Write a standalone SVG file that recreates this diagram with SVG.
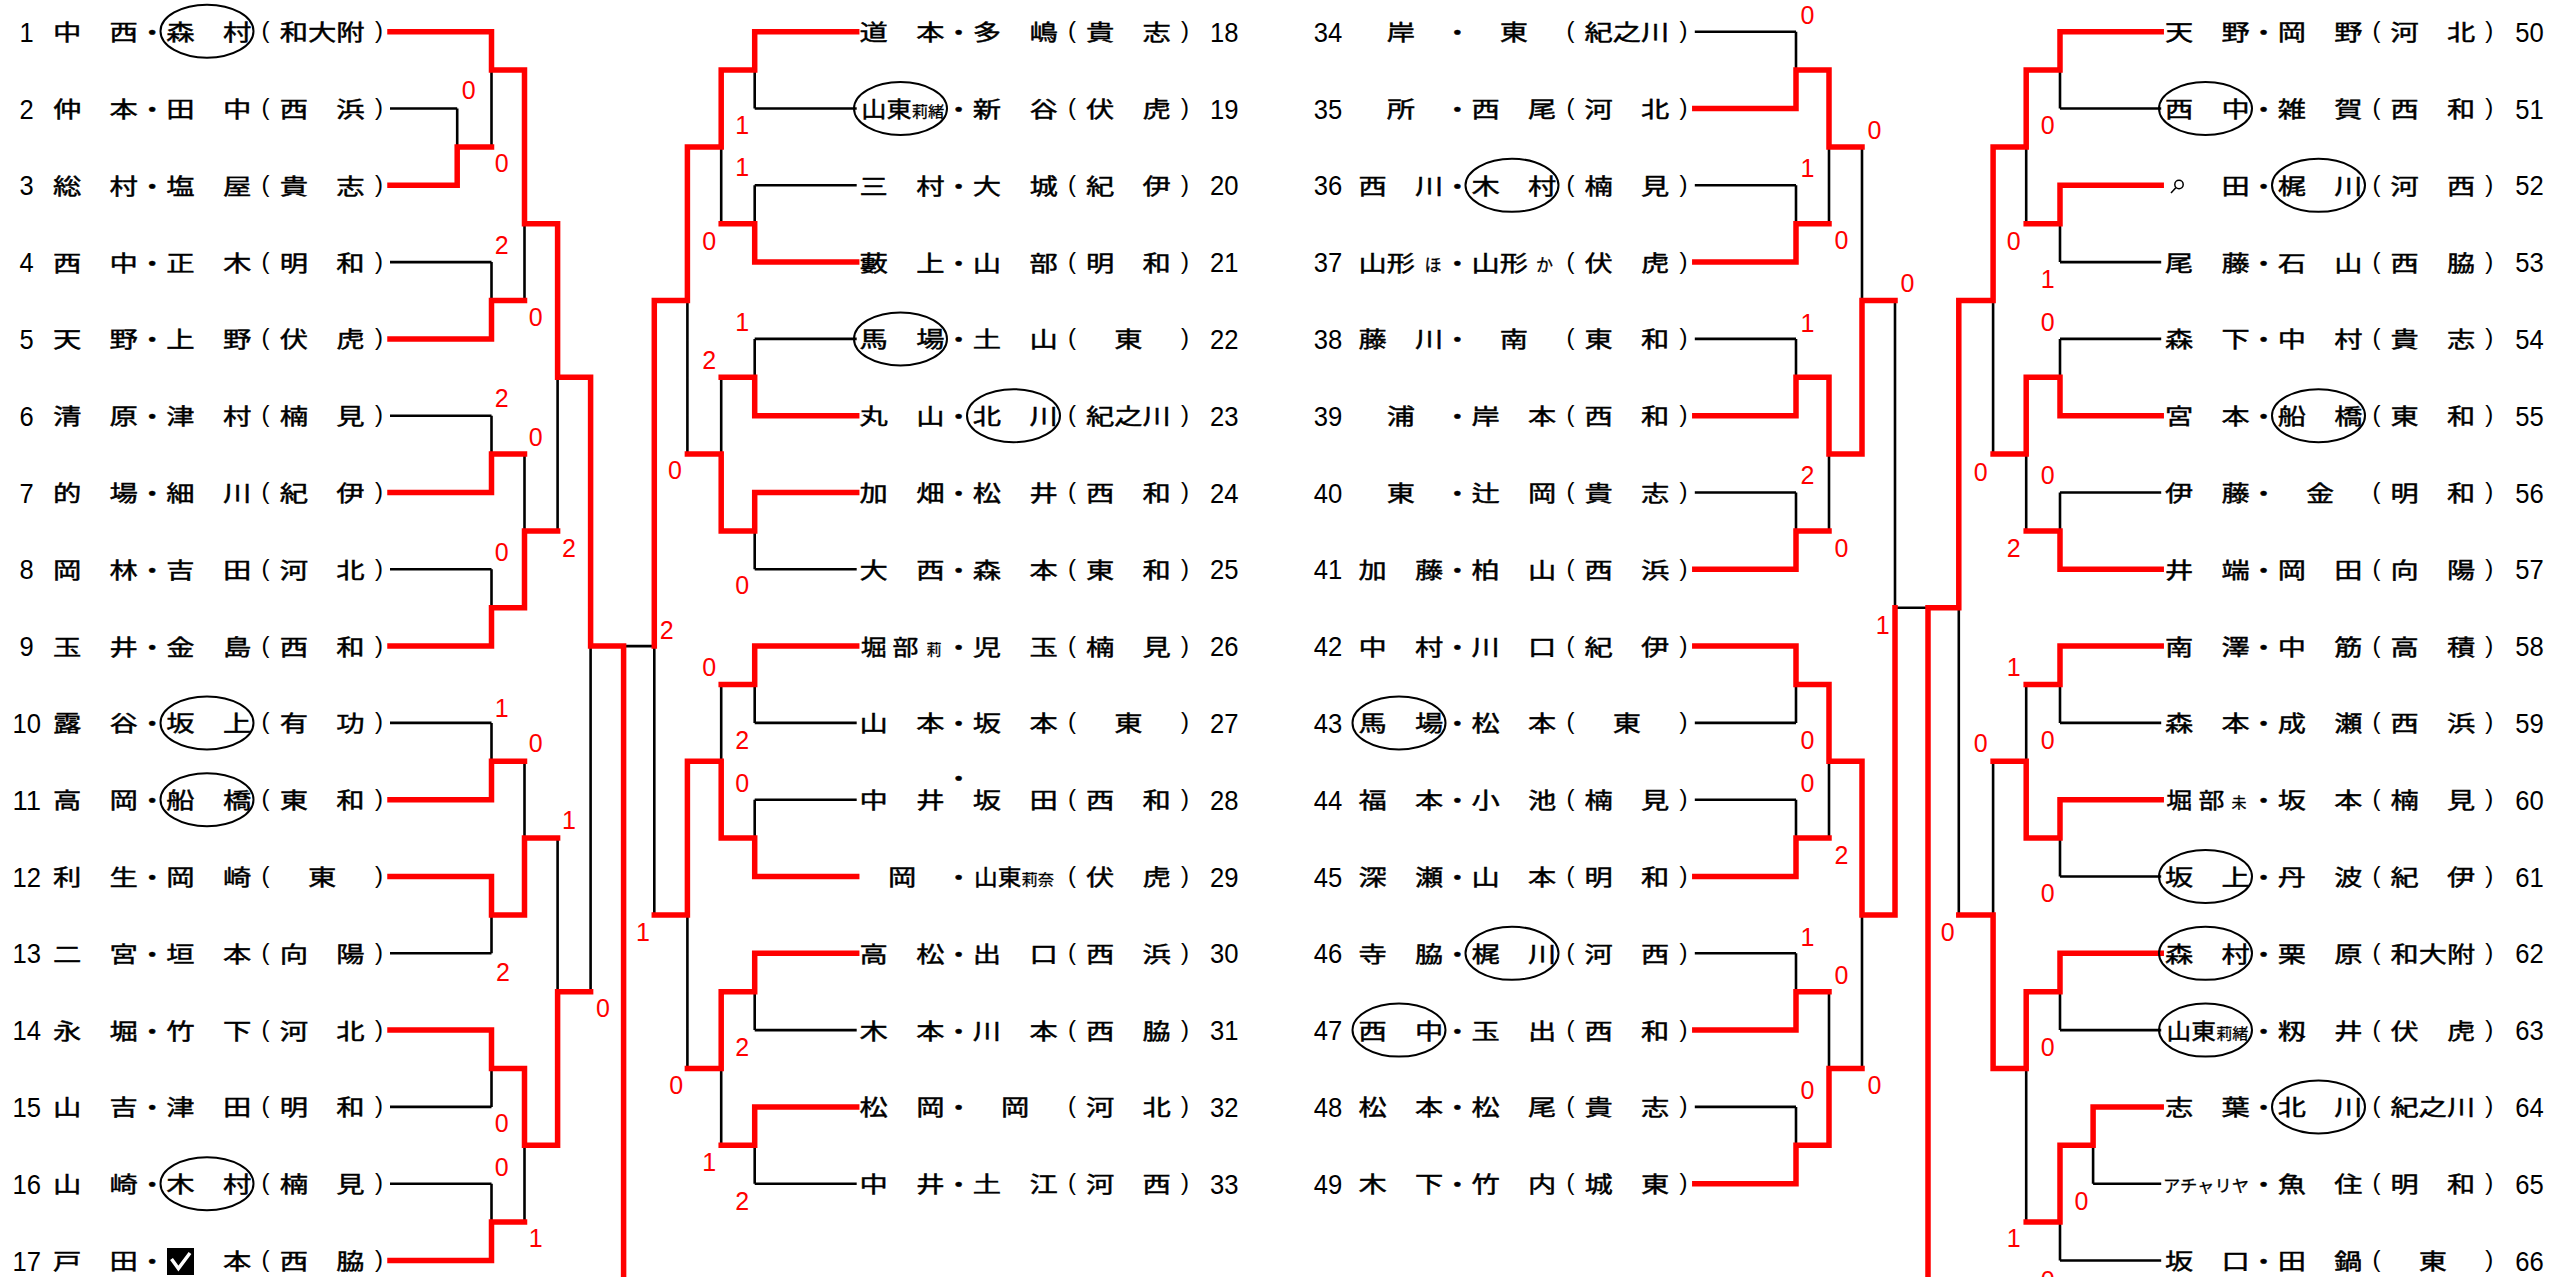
<svg xmlns="http://www.w3.org/2000/svg" width="2576" height="1277" viewBox="0 0 2576 1277">
<style>
.t{font-family:"Noto Sans CJK JP","Noto Sans CJK SC",sans-serif;font-size:22px;fill:#000;stroke:#000;stroke-width:0.45}
.k{font-family:"Noto Sans CJK JP","Noto Sans CJK SC",sans-serif;font-size:15px;fill:#000;stroke:#000;stroke-width:0.3}
.k2{font-family:"Noto Sans CJK JP","Noto Sans CJK SC",sans-serif;font-size:17px;fill:#000;stroke:#000;stroke-width:0.3}
.pp{font-family:"Liberation Sans",Arial,sans-serif;font-size:24px;text-anchor:middle;fill:#000}
.n{font-family:"Liberation Sans",Arial,sans-serif;font-size:28px;text-anchor:middle;fill:#000}
.s{font-family:"Liberation Sans",Arial,sans-serif;font-size:25px;text-anchor:middle;fill:#f00}
.c{fill:none;stroke:#000;stroke-width:2}
.b{fill:none;stroke:#000;stroke-width:2.6}
.r{fill:none;stroke:#f00;stroke-width:5.5;stroke-linejoin:miter;stroke-linecap:square}
</style>
<rect width="2576" height="1277" fill="#fff"/>
<g id="connectors">
<path class="b" d="M390 31.7H491.5M390 108.5H457.2M390 185.3H457.2M390 262.1H491.5M390 338.9H491.5M390 415.7H491.5M390 492.5H491.5M390 569.3H491.5M390 646.1H491.5M390 722.9H491.5M390 799.7H491.5M390 876.5H491.5M390 953.3H491.5M390 1030.1H491.5M390 1106.9H491.5M390 1183.7H491.5M390 1260.5H491.5M457.2 108.5V185.3M457.2 146.9H491.5M491.5 31.7V146.9M491.5 262.1V338.9M491.5 415.7V492.5M491.5 569.3V646.1M491.5 722.9V799.7M491.5 876.5V953.3M491.5 1030.1V1106.9M491.5 1183.7V1260.5M491.5 70.1H524.5M491.5 300.5H524.5M491.5 454.1H524.5M491.5 607.7H524.5M491.5 761.3H524.5M491.5 914.9H524.5M491.5 1068.5H524.5M491.5 1222.1H524.5M524.5 70.1V300.5M524.5 454.1V607.7M524.5 761.3V914.9M524.5 1068.5V1222.1M524.5 223.7H557.6M524.5 530.9H557.6M524.5 838.1H557.6M524.5 1145.3H557.6M557.6 223.7V530.9M557.6 838.1V1145.3M557.6 377.3H590.6M557.6 991.7H590.6M590.6 377.3V991.7M590.6 646.1H654.3M623.6 646.1V1277"/>
<path class="b" d="M856.7 31.7H754.7M856.7 108.5H754.7M856.7 185.3H754.7M856.7 262.1H754.7M856.7 338.9H754.7M856.7 415.7H754.7M856.7 492.5H754.7M856.7 569.3H754.7M856.7 646.1H754.7M856.7 722.9H754.7M856.7 799.7H754.7M856.7 876.5H754.7M856.7 953.3H754.7M856.7 1030.1H754.7M856.7 1106.9H754.7M856.7 1183.7H754.7M754.7 31.7V108.5M754.7 185.3V262.1M754.7 338.9V415.7M754.7 492.5V569.3M754.7 646.1V722.9M754.7 799.7V876.5M754.7 953.3V1030.1M754.7 1106.9V1183.7M754.7 70.1H721.2M754.7 223.7H721.2M754.7 377.3H721.2M754.7 530.9H721.2M754.7 684.5H721.2M754.7 838.1H721.2M754.7 991.7H721.2M754.7 1145.3H721.2M721.2 70.1V223.7M721.2 377.3V530.9M721.2 684.5V838.1M721.2 991.7V1145.3M721.2 146.9H687.4M721.2 454.1H687.4M721.2 761.3H687.4M721.2 1068.5H687.4M687.4 146.9V454.1M687.4 761.3V1068.5M687.4 300.5H654.3M687.4 914.9H654.3M654.3 300.5V914.9"/>
<path class="b" d="M1694.8 31.7H1796M1694.8 108.5H1796M1694.8 185.3H1796M1694.8 262.1H1796M1694.8 338.9H1796M1694.8 415.7H1796M1694.8 492.5H1796M1694.8 569.3H1796M1694.8 646.1H1796M1694.8 722.9H1796M1694.8 799.7H1796M1694.8 876.5H1796M1694.8 953.3H1796M1694.8 1030.1H1796M1694.8 1106.9H1796M1694.8 1183.7H1796M1796 31.7V108.5M1796 185.3V262.1M1796 338.9V415.7M1796 492.5V569.3M1796 646.1V722.9M1796 799.7V876.5M1796 953.3V1030.1M1796 1106.9V1183.7M1796 70.1H1829M1796 223.7H1829M1796 377.3H1829M1796 530.9H1829M1796 684.5H1829M1796 838.1H1829M1796 991.7H1829M1796 1145.3H1829M1829 70.1V223.7M1829 377.3V530.9M1829 684.5V838.1M1829 991.7V1145.3M1829 146.9H1862M1829 454.1H1862M1829 761.3H1862M1829 1068.5H1862M1862 146.9V454.1M1862 761.3V1068.5M1862 300.5H1895M1862 914.9H1895M1895 300.5V914.9M1895 607.7H1958.8"/>
<path class="b" d="M2161.2 31.7H2060M2161.2 108.5H2060M2161.2 185.3H2060M2161.2 262.1H2060M2161.2 338.9H2060M2161.2 415.7H2060M2161.2 492.5H2060M2161.2 569.3H2060M2161.2 646.1H2060M2161.2 722.9H2060M2161.2 799.7H2060M2161.2 876.5H2060M2161.2 953.3H2060M2161.2 1030.1H2060M2161.2 1106.9H2093.1M2161.2 1183.7H2093.1M2161.2 1260.5H2060M2093.1 1106.9V1183.7M2093.1 1145.3H2060M2060 31.7V108.5M2060 185.3V262.1M2060 338.9V415.7M2060 492.5V569.3M2060 646.1V722.9M2060 799.7V876.5M2060 953.3V1030.1M2060 1145.3V1260.5M2060 70.1H2026.2M2060 223.7H2026.2M2060 377.3H2026.2M2060 530.9H2026.2M2060 684.5H2026.2M2060 838.1H2026.2M2060 991.7H2026.2M2060 1222.1H2026.2M2026.2 70.1V223.7M2026.2 377.3V530.9M2026.2 684.5V838.1M2026.2 991.7V1222.1M2026.2 146.9H1993.1M2026.2 454.1H1993.1M2026.2 761.3H1993.1M2026.2 1068.5H1993.1M1993.1 146.9V454.1M1993.1 761.3V1068.5M1993.1 300.5H1958.8M1993.1 914.9H1958.8M1958.8 300.5V914.9"/>
<path class="r" d="M390 31.7H491.5V70.1H524.5V223.7H557.6V377.3H590.6V646.1H623.6V1280M390 185.3H457.2V146.9H491.5M390 338.9H491.5V300.5H524.5M390 492.5H491.5V454.1H524.5M390 646.1H491.5V607.7H524.5V530.9H557.6M390 799.7H491.5V761.3H524.5M390 876.5H491.5V914.9H524.5V838.1H557.6M390 1030.1H491.5V1068.5H524.5V1145.3H557.6V991.7H590.6M390 1260.5H491.5V1222.1H524.5"/>
<path class="r" d="M856.7 31.7H754.7V70.1H721.2V146.9H687.4V300.5H654.3V646.1M856.7 262.1H754.7V223.7H721.2M856.7 415.7H754.7V377.3H721.2M856.7 492.5H754.7V530.9H721.2V454.1H687.4M856.7 646.1H754.7V684.5H721.2M856.7 876.5H754.7V838.1H721.2V761.3H687.4V914.9H654.3M856.7 953.3H754.7V991.7H721.2V1068.5H687.4M856.7 1106.9H754.7V1145.3H721.2"/>
<path class="r" d="M1694.8 108.5H1796V70.1H1829V146.9H1862M1694.8 262.1H1796V223.7H1829M1694.8 415.7H1796V377.3H1829V454.1H1862V300.5H1895M1694.8 569.3H1796V530.9H1829M1694.8 646.1H1796V684.5H1829V761.3H1862V914.9H1895V607.7M1694.8 876.5H1796V838.1H1829M1694.8 1030.1H1796V991.7H1829M1694.8 1183.7H1796V1145.3H1829V1068.5H1862"/>
<path class="r" d="M2161.2 31.7H2060V70.1H2026.2V146.9H1993.1V300.5H1958.8V607.7H1928V1280M2161.2 185.3H2060V223.7H2026.2M2161.2 415.7H2060V377.3H2026.2V454.1H1993.1M2161.2 569.3H2060V530.9H2026.2M2161.2 646.1H2060V684.5H2026.2M2161.2 799.7H2060V838.1H2026.2V761.3H1993.1M2161.2 953.3H2060V991.7H2026.2V1068.5H1993.1V914.9H1958.8M2161.2 1106.9H2093.1V1145.3H2060V1222.1H2026.2"/>
</g>
<g id="p1"><text class="n" x="26.7" y="41.7" textLength="14.2" lengthAdjust="spacingAndGlyphs">1</text><text class="t" x="52.9" y="40.1" textLength="198.45" lengthAdjust="spacingAndGlyphs">中　西・森　村</text><text class="pp" x="265.5" y="38.2">(</text><text class="t" x="279.7" y="40.1" textLength="85.05" lengthAdjust="spacingAndGlyphs">和大附</text><text class="pp" x="378.9" y="38.2">)</text><ellipse class="c" cx="207" cy="31.2" rx="46.5" ry="26.5"/></g>
<g id="p2"><text class="n" x="26.7" y="118.5" textLength="14.2" lengthAdjust="spacingAndGlyphs">2</text><text class="t" x="52.9" y="116.9" textLength="198.45" lengthAdjust="spacingAndGlyphs">仲　本・田　中</text><text class="pp" x="265.5" y="115">(</text><text class="t" x="279.7" y="116.9" textLength="85.05" lengthAdjust="spacingAndGlyphs">西　浜</text><text class="pp" x="378.9" y="115">)</text></g>
<g id="p3"><text class="n" x="26.7" y="195.3" textLength="14.2" lengthAdjust="spacingAndGlyphs">3</text><text class="t" x="52.9" y="193.7" textLength="198.45" lengthAdjust="spacingAndGlyphs">総　村・塩　屋</text><text class="pp" x="265.5" y="191.8">(</text><text class="t" x="279.7" y="193.7" textLength="85.05" lengthAdjust="spacingAndGlyphs">貴　志</text><text class="pp" x="378.9" y="191.8">)</text></g>
<g id="p4"><text class="n" x="26.7" y="272.1" textLength="14.2" lengthAdjust="spacingAndGlyphs">4</text><text class="t" x="52.9" y="270.5" textLength="198.45" lengthAdjust="spacingAndGlyphs">西　中・正　木</text><text class="pp" x="265.5" y="268.6">(</text><text class="t" x="279.7" y="270.5" textLength="85.05" lengthAdjust="spacingAndGlyphs">明　和</text><text class="pp" x="378.9" y="268.6">)</text></g>
<g id="p5"><text class="n" x="26.7" y="348.9" textLength="14.2" lengthAdjust="spacingAndGlyphs">5</text><text class="t" x="52.9" y="347.3" textLength="198.45" lengthAdjust="spacingAndGlyphs">天　野・上　野</text><text class="pp" x="265.5" y="345.4">(</text><text class="t" x="279.7" y="347.3" textLength="85.05" lengthAdjust="spacingAndGlyphs">伏　虎</text><text class="pp" x="378.9" y="345.4">)</text></g>
<g id="p6"><text class="n" x="26.7" y="425.7" textLength="14.2" lengthAdjust="spacingAndGlyphs">6</text><text class="t" x="52.9" y="424.1" textLength="198.45" lengthAdjust="spacingAndGlyphs">清　原・津　村</text><text class="pp" x="265.5" y="422.2">(</text><text class="t" x="279.7" y="424.1" textLength="85.05" lengthAdjust="spacingAndGlyphs">楠　見</text><text class="pp" x="378.9" y="422.2">)</text></g>
<g id="p7"><text class="n" x="26.7" y="502.5" textLength="14.2" lengthAdjust="spacingAndGlyphs">7</text><text class="t" x="52.9" y="500.9" textLength="198.45" lengthAdjust="spacingAndGlyphs">的　場・細　川</text><text class="pp" x="265.5" y="499">(</text><text class="t" x="279.7" y="500.9" textLength="85.05" lengthAdjust="spacingAndGlyphs">紀　伊</text><text class="pp" x="378.9" y="499">)</text></g>
<g id="p8"><text class="n" x="26.7" y="579.3" textLength="14.2" lengthAdjust="spacingAndGlyphs">8</text><text class="t" x="52.9" y="577.7" textLength="198.45" lengthAdjust="spacingAndGlyphs">岡　林・吉　田</text><text class="pp" x="265.5" y="575.8">(</text><text class="t" x="279.7" y="577.7" textLength="85.05" lengthAdjust="spacingAndGlyphs">河　北</text><text class="pp" x="378.9" y="575.8">)</text></g>
<g id="p9"><text class="n" x="26.7" y="656.1" textLength="14.2" lengthAdjust="spacingAndGlyphs">9</text><text class="t" x="52.9" y="654.5" textLength="198.45" lengthAdjust="spacingAndGlyphs">玉　井・金　島</text><text class="pp" x="265.5" y="652.6">(</text><text class="t" x="279.7" y="654.5" textLength="85.05" lengthAdjust="spacingAndGlyphs">西　和</text><text class="pp" x="378.9" y="652.6">)</text></g>
<g id="p10"><text class="n" x="26.7" y="732.9" textLength="28.5" lengthAdjust="spacingAndGlyphs">10</text><text class="t" x="52.9" y="731.3" textLength="198.45" lengthAdjust="spacingAndGlyphs">露　谷・坂　上</text><text class="pp" x="265.5" y="729.4">(</text><text class="t" x="279.7" y="731.3" textLength="85.05" lengthAdjust="spacingAndGlyphs">有　功</text><text class="pp" x="378.9" y="729.4">)</text><ellipse class="c" cx="207" cy="722.9" rx="46.5" ry="26.5"/></g>
<g id="p11"><text class="n" x="26.7" y="809.7" textLength="28.5" lengthAdjust="spacingAndGlyphs">11</text><text class="t" x="52.9" y="808.1" textLength="198.45" lengthAdjust="spacingAndGlyphs">高　岡・船　橋</text><text class="pp" x="265.5" y="806.2">(</text><text class="t" x="279.7" y="808.1" textLength="85.05" lengthAdjust="spacingAndGlyphs">東　和</text><text class="pp" x="378.9" y="806.2">)</text><ellipse class="c" cx="207" cy="799.7" rx="46.5" ry="26.5"/></g>
<g id="p12"><text class="n" x="26.7" y="886.5" textLength="28.5" lengthAdjust="spacingAndGlyphs">12</text><text class="t" x="52.9" y="884.9" textLength="198.45" lengthAdjust="spacingAndGlyphs">利　生・岡　崎</text><text class="pp" x="265.5" y="883">(</text><text class="t" x="279.7" y="884.9" textLength="85.05" lengthAdjust="spacingAndGlyphs">　東　</text><text class="pp" x="378.9" y="883">)</text></g>
<g id="p13"><text class="n" x="26.7" y="963.3" textLength="28.5" lengthAdjust="spacingAndGlyphs">13</text><text class="t" x="52.9" y="961.7" textLength="198.45" lengthAdjust="spacingAndGlyphs">二　宮・垣　本</text><text class="pp" x="265.5" y="959.8">(</text><text class="t" x="279.7" y="961.7" textLength="85.05" lengthAdjust="spacingAndGlyphs">向　陽</text><text class="pp" x="378.9" y="959.8">)</text></g>
<g id="p14"><text class="n" x="26.7" y="1040.1" textLength="28.5" lengthAdjust="spacingAndGlyphs">14</text><text class="t" x="52.9" y="1038.5" textLength="198.45" lengthAdjust="spacingAndGlyphs">永　堀・竹　下</text><text class="pp" x="265.5" y="1036.6">(</text><text class="t" x="279.7" y="1038.5" textLength="85.05" lengthAdjust="spacingAndGlyphs">河　北</text><text class="pp" x="378.9" y="1036.6">)</text></g>
<g id="p15"><text class="n" x="26.7" y="1116.9" textLength="28.5" lengthAdjust="spacingAndGlyphs">15</text><text class="t" x="52.9" y="1115.3" textLength="198.45" lengthAdjust="spacingAndGlyphs">山　吉・津　田</text><text class="pp" x="265.5" y="1113.4">(</text><text class="t" x="279.7" y="1115.3" textLength="85.05" lengthAdjust="spacingAndGlyphs">明　和</text><text class="pp" x="378.9" y="1113.4">)</text></g>
<g id="p16"><text class="n" x="26.7" y="1193.7" textLength="28.5" lengthAdjust="spacingAndGlyphs">16</text><text class="t" x="52.9" y="1192.1" textLength="198.45" lengthAdjust="spacingAndGlyphs">山　崎・木　村</text><text class="pp" x="265.5" y="1190.2">(</text><text class="t" x="279.7" y="1192.1" textLength="85.05" lengthAdjust="spacingAndGlyphs">楠　見</text><text class="pp" x="378.9" y="1190.2">)</text><ellipse class="c" cx="207" cy="1183.7" rx="46.5" ry="26.5"/></g>
<g id="p17"><text class="n" x="26.7" y="1270.5" textLength="28.5" lengthAdjust="spacingAndGlyphs">17</text><text class="t" x="52.9" y="1268.9" textLength="198.45" lengthAdjust="spacingAndGlyphs">戸　田・　　本</text><text class="pp" x="265.5" y="1267">(</text><text class="t" x="279.7" y="1268.9" textLength="85.05" lengthAdjust="spacingAndGlyphs">西　脇</text><text class="pp" x="378.9" y="1267">)</text><rect x="167" y="1248" width="27" height="27" fill="#000"/><polyline points="171.5,1259 178.4,1268.5 190,1253" fill="none" stroke="#fff" stroke-width="3.5"/></g>
<g id="p18"><text class="n" x="1224.3" y="41.7" textLength="28.5" lengthAdjust="spacingAndGlyphs">18</text><text class="t" x="859.6" y="40.1" textLength="198.1" lengthAdjust="spacingAndGlyphs">道　本・多　嶋</text><text class="pp" x="1071.9" y="38.2">(</text><text class="t" x="1086" y="40.1" textLength="84.9" lengthAdjust="spacingAndGlyphs">貴　志</text><text class="pp" x="1185" y="38.2">)</text></g>
<g id="p19"><text class="n" x="1224.3" y="118.5" textLength="28.5" lengthAdjust="spacingAndGlyphs">19</text><text class="t" x="861.2" y="116.9" textLength="50.4" lengthAdjust="spacingAndGlyphs">山東</text><text class="k" x="911.8" y="116.9" textLength="32.5" lengthAdjust="spacingAndGlyphs">莉緒</text><text class="t" x="944.5" y="116.9" textLength="113.2" lengthAdjust="spacingAndGlyphs">・新　谷</text><text class="pp" x="1071.9" y="115">(</text><text class="t" x="1086" y="116.9" textLength="84.9" lengthAdjust="spacingAndGlyphs">伏　虎</text><text class="pp" x="1185" y="115">)</text><ellipse class="c" cx="900.5" cy="108.5" rx="46.5" ry="26.5"/></g>
<g id="p20"><text class="n" x="1224.3" y="195.3" textLength="28.5" lengthAdjust="spacingAndGlyphs">20</text><text class="t" x="859.6" y="193.7" textLength="198.1" lengthAdjust="spacingAndGlyphs">三　村・大　城</text><text class="pp" x="1071.9" y="191.8">(</text><text class="t" x="1086" y="193.7" textLength="84.9" lengthAdjust="spacingAndGlyphs">紀　伊</text><text class="pp" x="1185" y="191.8">)</text></g>
<g id="p21"><text class="n" x="1224.3" y="272.1" textLength="28.5" lengthAdjust="spacingAndGlyphs">21</text><text class="t" x="859.6" y="270.5" textLength="198.1" lengthAdjust="spacingAndGlyphs">藪　上・山　部</text><text class="pp" x="1071.9" y="268.6">(</text><text class="t" x="1086" y="270.5" textLength="84.9" lengthAdjust="spacingAndGlyphs">明　和</text><text class="pp" x="1185" y="268.6">)</text></g>
<g id="p22"><text class="n" x="1224.3" y="348.9" textLength="28.5" lengthAdjust="spacingAndGlyphs">22</text><text class="t" x="859.6" y="347.3" textLength="198.1" lengthAdjust="spacingAndGlyphs">馬　場・土　山</text><text class="pp" x="1071.9" y="345.4">(</text><text class="t" x="1086" y="347.3" textLength="84.9" lengthAdjust="spacingAndGlyphs">　東　</text><text class="pp" x="1185" y="345.4">)</text><ellipse class="c" cx="900.5" cy="338.9" rx="46.5" ry="26.5"/></g>
<g id="p23"><text class="n" x="1224.3" y="425.7" textLength="28.5" lengthAdjust="spacingAndGlyphs">23</text><text class="t" x="859.6" y="424.1" textLength="198.1" lengthAdjust="spacingAndGlyphs">丸　山・北　川</text><text class="pp" x="1071.9" y="422.2">(</text><text class="t" x="1086" y="424.1" textLength="84.9" lengthAdjust="spacingAndGlyphs">紀之川</text><text class="pp" x="1185" y="422.2">)</text><ellipse class="c" cx="1013.5" cy="415.7" rx="46.5" ry="26.5"/></g>
<g id="p24"><text class="n" x="1224.3" y="502.5" textLength="28.5" lengthAdjust="spacingAndGlyphs">24</text><text class="t" x="859.6" y="500.9" textLength="198.1" lengthAdjust="spacingAndGlyphs">加　畑・松　井</text><text class="pp" x="1071.9" y="499">(</text><text class="t" x="1086" y="500.9" textLength="84.9" lengthAdjust="spacingAndGlyphs">西　和</text><text class="pp" x="1185" y="499">)</text></g>
<g id="p25"><text class="n" x="1224.3" y="579.3" textLength="28.5" lengthAdjust="spacingAndGlyphs">25</text><text class="t" x="859.6" y="577.7" textLength="198.1" lengthAdjust="spacingAndGlyphs">大　西・森　本</text><text class="pp" x="1071.9" y="575.8">(</text><text class="t" x="1086" y="577.7" textLength="84.9" lengthAdjust="spacingAndGlyphs">東　和</text><text class="pp" x="1185" y="575.8">)</text></g>
<g id="p26"><text class="n" x="1224.3" y="656.1" textLength="28.5" lengthAdjust="spacingAndGlyphs">26</text><text class="t" x="860.8" y="654.5" textLength="26" lengthAdjust="spacingAndGlyphs">堀</text><text class="t" x="892.6" y="654.5" textLength="26" lengthAdjust="spacingAndGlyphs">部</text><text class="k" x="926.6" y="654.5">莉</text><text class="t" x="944.5" y="654.5" textLength="113.2" lengthAdjust="spacingAndGlyphs">・児　玉</text><text class="pp" x="1071.9" y="652.6">(</text><text class="t" x="1086" y="654.5" textLength="84.9" lengthAdjust="spacingAndGlyphs">楠　見</text><text class="pp" x="1185" y="652.6">)</text></g>
<g id="p27"><text class="n" x="1224.3" y="732.9" textLength="28.5" lengthAdjust="spacingAndGlyphs">27</text><text class="t" x="859.6" y="731.3" textLength="198.1" lengthAdjust="spacingAndGlyphs">山　本・坂　本</text><text class="pp" x="1071.9" y="729.4">(</text><text class="t" x="1086" y="731.3" textLength="84.9" lengthAdjust="spacingAndGlyphs">　東　</text><text class="pp" x="1185" y="729.4">)</text></g>
<g id="p28"><text class="n" x="1224.3" y="809.7" textLength="28.5" lengthAdjust="spacingAndGlyphs">28</text><text class="t" x="859.6" y="808.1" textLength="84.9" lengthAdjust="spacingAndGlyphs">中　井</text><text class="t" x="944.5" y="785.7" textLength="28.3" lengthAdjust="spacingAndGlyphs">・</text><text class="t" x="972.8" y="808.1" textLength="84.9" lengthAdjust="spacingAndGlyphs">坂　田</text><text class="pp" x="1071.9" y="806.2">(</text><text class="t" x="1086" y="808.1" textLength="84.9" lengthAdjust="spacingAndGlyphs">西　和</text><text class="pp" x="1185" y="806.2">)</text></g>
<g id="p29"><text class="n" x="1224.3" y="886.5" textLength="28.5" lengthAdjust="spacingAndGlyphs">29</text><text class="t" x="859.6" y="884.9" textLength="113.2" lengthAdjust="spacingAndGlyphs">　岡　・</text><text class="t" x="973.95" y="884.9" textLength="47.4" lengthAdjust="spacingAndGlyphs">山東</text><text class="k" x="1021.6" y="884.9" textLength="32.5" lengthAdjust="spacingAndGlyphs">莉奈</text><text class="pp" x="1071.9" y="883">(</text><text class="t" x="1086" y="884.9" textLength="84.9" lengthAdjust="spacingAndGlyphs">伏　虎</text><text class="pp" x="1185" y="883">)</text></g>
<g id="p30"><text class="n" x="1224.3" y="963.3" textLength="28.5" lengthAdjust="spacingAndGlyphs">30</text><text class="t" x="859.6" y="961.7" textLength="198.1" lengthAdjust="spacingAndGlyphs">高　松・出　口</text><text class="pp" x="1071.9" y="959.8">(</text><text class="t" x="1086" y="961.7" textLength="84.9" lengthAdjust="spacingAndGlyphs">西　浜</text><text class="pp" x="1185" y="959.8">)</text></g>
<g id="p31"><text class="n" x="1224.3" y="1040.1" textLength="28.5" lengthAdjust="spacingAndGlyphs">31</text><text class="t" x="859.6" y="1038.5" textLength="198.1" lengthAdjust="spacingAndGlyphs">木　本・川　本</text><text class="pp" x="1071.9" y="1036.6">(</text><text class="t" x="1086" y="1038.5" textLength="84.9" lengthAdjust="spacingAndGlyphs">西　脇</text><text class="pp" x="1185" y="1036.6">)</text></g>
<g id="p32"><text class="n" x="1224.3" y="1116.9" textLength="28.5" lengthAdjust="spacingAndGlyphs">32</text><text class="t" x="859.6" y="1115.3" textLength="198.1" lengthAdjust="spacingAndGlyphs">松　岡・　岡　</text><text class="pp" x="1071.9" y="1113.4">(</text><text class="t" x="1086" y="1115.3" textLength="84.9" lengthAdjust="spacingAndGlyphs">河　北</text><text class="pp" x="1185" y="1113.4">)</text></g>
<g id="p33"><text class="n" x="1224.3" y="1193.7" textLength="28.5" lengthAdjust="spacingAndGlyphs">33</text><text class="t" x="859.6" y="1192.1" textLength="198.1" lengthAdjust="spacingAndGlyphs">中　井・土　江</text><text class="pp" x="1071.9" y="1190.2">(</text><text class="t" x="1086" y="1192.1" textLength="84.9" lengthAdjust="spacingAndGlyphs">河　西</text><text class="pp" x="1185" y="1190.2">)</text></g>
<g id="p34"><text class="n" x="1327.9" y="41.7" textLength="28.5" lengthAdjust="spacingAndGlyphs">34</text><text class="t" x="1358.6" y="40.1" textLength="197.7" lengthAdjust="spacingAndGlyphs">　岸　・　東　</text><text class="pp" x="1570.4" y="38.2">(</text><text class="t" x="1584.5" y="40.1" textLength="84.7" lengthAdjust="spacingAndGlyphs">紀之川</text><text class="pp" x="1683.4" y="38.2">)</text></g>
<g id="p35"><text class="n" x="1327.9" y="118.5" textLength="28.5" lengthAdjust="spacingAndGlyphs">35</text><text class="t" x="1358.6" y="116.9" textLength="197.7" lengthAdjust="spacingAndGlyphs">　所　・西　尾</text><text class="pp" x="1570.4" y="115">(</text><text class="t" x="1584.5" y="116.9" textLength="84.7" lengthAdjust="spacingAndGlyphs">河　北</text><text class="pp" x="1683.4" y="115">)</text></g>
<g id="p36"><text class="n" x="1327.9" y="195.3" textLength="28.5" lengthAdjust="spacingAndGlyphs">36</text><text class="t" x="1358.6" y="193.7" textLength="197.7" lengthAdjust="spacingAndGlyphs">西　川・木　村</text><text class="pp" x="1570.4" y="191.8">(</text><text class="t" x="1584.5" y="193.7" textLength="84.7" lengthAdjust="spacingAndGlyphs">楠　見</text><text class="pp" x="1683.4" y="191.8">)</text><ellipse class="c" cx="1512" cy="185.3" rx="46.5" ry="26.5"/></g>
<g id="p37"><text class="n" x="1327.9" y="272.1" textLength="28.5" lengthAdjust="spacingAndGlyphs">37</text><text class="t" x="1358.6" y="270.5" textLength="56.5" lengthAdjust="spacingAndGlyphs">山形</text><text class="k2" x="1424.6" y="270.5">ほ</text><text class="t" x="1443.3" y="270.5" textLength="84.7" lengthAdjust="spacingAndGlyphs">・山形</text><text class="k2" x="1536" y="270.5">か</text><text class="pp" x="1570.4" y="268.6">(</text><text class="t" x="1584.5" y="270.5" textLength="84.7" lengthAdjust="spacingAndGlyphs">伏　虎</text><text class="pp" x="1683.4" y="268.6">)</text></g>
<g id="p38"><text class="n" x="1327.9" y="348.9" textLength="28.5" lengthAdjust="spacingAndGlyphs">38</text><text class="t" x="1358.6" y="347.3" textLength="197.7" lengthAdjust="spacingAndGlyphs">藤　川・　南　</text><text class="pp" x="1570.4" y="345.4">(</text><text class="t" x="1584.5" y="347.3" textLength="84.7" lengthAdjust="spacingAndGlyphs">東　和</text><text class="pp" x="1683.4" y="345.4">)</text></g>
<g id="p39"><text class="n" x="1327.9" y="425.7" textLength="28.5" lengthAdjust="spacingAndGlyphs">39</text><text class="t" x="1358.6" y="424.1" textLength="197.7" lengthAdjust="spacingAndGlyphs">　浦　・岸　本</text><text class="pp" x="1570.4" y="422.2">(</text><text class="t" x="1584.5" y="424.1" textLength="84.7" lengthAdjust="spacingAndGlyphs">西　和</text><text class="pp" x="1683.4" y="422.2">)</text></g>
<g id="p40"><text class="n" x="1327.9" y="502.5" textLength="28.5" lengthAdjust="spacingAndGlyphs">40</text><text class="t" x="1358.6" y="500.9" textLength="197.7" lengthAdjust="spacingAndGlyphs">　東　・辻　岡</text><text class="pp" x="1570.4" y="499">(</text><text class="t" x="1584.5" y="500.9" textLength="84.7" lengthAdjust="spacingAndGlyphs">貴　志</text><text class="pp" x="1683.4" y="499">)</text></g>
<g id="p41"><text class="n" x="1327.9" y="579.3" textLength="28.5" lengthAdjust="spacingAndGlyphs">41</text><text class="t" x="1358.6" y="577.7" textLength="197.7" lengthAdjust="spacingAndGlyphs">加　藤・柏　山</text><text class="pp" x="1570.4" y="575.8">(</text><text class="t" x="1584.5" y="577.7" textLength="84.7" lengthAdjust="spacingAndGlyphs">西　浜</text><text class="pp" x="1683.4" y="575.8">)</text></g>
<g id="p42"><text class="n" x="1327.9" y="656.1" textLength="28.5" lengthAdjust="spacingAndGlyphs">42</text><text class="t" x="1358.6" y="654.5" textLength="197.7" lengthAdjust="spacingAndGlyphs">中　村・川　口</text><text class="pp" x="1570.4" y="652.6">(</text><text class="t" x="1584.5" y="654.5" textLength="84.7" lengthAdjust="spacingAndGlyphs">紀　伊</text><text class="pp" x="1683.4" y="652.6">)</text></g>
<g id="p43"><text class="n" x="1327.9" y="732.9" textLength="28.5" lengthAdjust="spacingAndGlyphs">43</text><text class="t" x="1358.6" y="731.3" textLength="197.7" lengthAdjust="spacingAndGlyphs">馬　場・松　本</text><text class="pp" x="1570.4" y="729.4">(</text><text class="t" x="1584.5" y="731.3" textLength="84.7" lengthAdjust="spacingAndGlyphs">　東　</text><text class="pp" x="1683.4" y="729.4">)</text><ellipse class="c" cx="1399" cy="722.9" rx="46.5" ry="26.5"/></g>
<g id="p44"><text class="n" x="1327.9" y="809.7" textLength="28.5" lengthAdjust="spacingAndGlyphs">44</text><text class="t" x="1358.6" y="808.1" textLength="197.7" lengthAdjust="spacingAndGlyphs">福　本・小　池</text><text class="pp" x="1570.4" y="806.2">(</text><text class="t" x="1584.5" y="808.1" textLength="84.7" lengthAdjust="spacingAndGlyphs">楠　見</text><text class="pp" x="1683.4" y="806.2">)</text></g>
<g id="p45"><text class="n" x="1327.9" y="886.5" textLength="28.5" lengthAdjust="spacingAndGlyphs">45</text><text class="t" x="1358.6" y="884.9" textLength="197.7" lengthAdjust="spacingAndGlyphs">深　瀬・山　本</text><text class="pp" x="1570.4" y="883">(</text><text class="t" x="1584.5" y="884.9" textLength="84.7" lengthAdjust="spacingAndGlyphs">明　和</text><text class="pp" x="1683.4" y="883">)</text></g>
<g id="p46"><text class="n" x="1327.9" y="963.3" textLength="28.5" lengthAdjust="spacingAndGlyphs">46</text><text class="t" x="1358.6" y="961.7" textLength="197.7" lengthAdjust="spacingAndGlyphs">寺　脇・梶　川</text><text class="pp" x="1570.4" y="959.8">(</text><text class="t" x="1584.5" y="961.7" textLength="84.7" lengthAdjust="spacingAndGlyphs">河　西</text><text class="pp" x="1683.4" y="959.8">)</text><ellipse class="c" cx="1512" cy="953.3" rx="46.5" ry="26.5"/></g>
<g id="p47"><text class="n" x="1327.9" y="1040.1" textLength="28.5" lengthAdjust="spacingAndGlyphs">47</text><text class="t" x="1358.6" y="1038.5" textLength="197.7" lengthAdjust="spacingAndGlyphs">西　中・玉　出</text><text class="pp" x="1570.4" y="1036.6">(</text><text class="t" x="1584.5" y="1038.5" textLength="84.7" lengthAdjust="spacingAndGlyphs">西　和</text><text class="pp" x="1683.4" y="1036.6">)</text><ellipse class="c" cx="1399" cy="1030.1" rx="46.5" ry="26.5"/></g>
<g id="p48"><text class="n" x="1327.9" y="1116.9" textLength="28.5" lengthAdjust="spacingAndGlyphs">48</text><text class="t" x="1358.6" y="1115.3" textLength="197.7" lengthAdjust="spacingAndGlyphs">松　本・松　尾</text><text class="pp" x="1570.4" y="1113.4">(</text><text class="t" x="1584.5" y="1115.3" textLength="84.7" lengthAdjust="spacingAndGlyphs">貴　志</text><text class="pp" x="1683.4" y="1113.4">)</text></g>
<g id="p49"><text class="n" x="1327.9" y="1193.7" textLength="28.5" lengthAdjust="spacingAndGlyphs">49</text><text class="t" x="1358.6" y="1192.1" textLength="197.7" lengthAdjust="spacingAndGlyphs">木　下・竹　内</text><text class="pp" x="1570.4" y="1190.2">(</text><text class="t" x="1584.5" y="1192.1" textLength="84.7" lengthAdjust="spacingAndGlyphs">城　東</text><text class="pp" x="1683.4" y="1190.2">)</text></g>
<g id="p50"><text class="n" x="2529.4" y="41.7" textLength="28.5" lengthAdjust="spacingAndGlyphs">50</text><text class="t" x="2165" y="40.1" textLength="197.4" lengthAdjust="spacingAndGlyphs">天　野・岡　野</text><text class="pp" x="2376.5" y="38.2">(</text><text class="t" x="2390.6" y="40.1" textLength="84.6" lengthAdjust="spacingAndGlyphs">河　北</text><text class="pp" x="2489.3" y="38.2">)</text></g>
<g id="p51"><text class="n" x="2529.4" y="118.5" textLength="28.5" lengthAdjust="spacingAndGlyphs">51</text><text class="t" x="2165" y="116.9" textLength="197.4" lengthAdjust="spacingAndGlyphs">西　中・雑　賀</text><text class="pp" x="2376.5" y="115">(</text><text class="t" x="2390.6" y="116.9" textLength="84.6" lengthAdjust="spacingAndGlyphs">西　和</text><text class="pp" x="2489.3" y="115">)</text><ellipse class="c" cx="2205.5" cy="108.5" rx="46.5" ry="26.5"/></g>
<g id="p52"><text class="n" x="2529.4" y="195.3" textLength="28.5" lengthAdjust="spacingAndGlyphs">52</text><text class="t" x="2165" y="193.7" textLength="197.4" lengthAdjust="spacingAndGlyphs">　　田・梶　川</text><text class="pp" x="2376.5" y="191.8">(</text><text class="t" x="2390.6" y="193.7" textLength="84.6" lengthAdjust="spacingAndGlyphs">河　西</text><text class="pp" x="2489.3" y="191.8">)</text><circle cx="2179" cy="184.5" r="4.2" fill="none" stroke="#000" stroke-width="1.5"/><line x1="2175.8" y1="187.8" x2="2171" y2="193" stroke="#000" stroke-width="1.5"/><ellipse class="c" cx="2318.5" cy="185.3" rx="46.5" ry="26.5"/></g>
<g id="p53"><text class="n" x="2529.4" y="272.1" textLength="28.5" lengthAdjust="spacingAndGlyphs">53</text><text class="t" x="2165" y="270.5" textLength="197.4" lengthAdjust="spacingAndGlyphs">尾　藤・石　山</text><text class="pp" x="2376.5" y="268.6">(</text><text class="t" x="2390.6" y="270.5" textLength="84.6" lengthAdjust="spacingAndGlyphs">西　脇</text><text class="pp" x="2489.3" y="268.6">)</text></g>
<g id="p54"><text class="n" x="2529.4" y="348.9" textLength="28.5" lengthAdjust="spacingAndGlyphs">54</text><text class="t" x="2165" y="347.3" textLength="197.4" lengthAdjust="spacingAndGlyphs">森　下・中　村</text><text class="pp" x="2376.5" y="345.4">(</text><text class="t" x="2390.6" y="347.3" textLength="84.6" lengthAdjust="spacingAndGlyphs">貴　志</text><text class="pp" x="2489.3" y="345.4">)</text></g>
<g id="p55"><text class="n" x="2529.4" y="425.7" textLength="28.5" lengthAdjust="spacingAndGlyphs">55</text><text class="t" x="2165" y="424.1" textLength="197.4" lengthAdjust="spacingAndGlyphs">宮　本・船　橋</text><text class="pp" x="2376.5" y="422.2">(</text><text class="t" x="2390.6" y="424.1" textLength="84.6" lengthAdjust="spacingAndGlyphs">東　和</text><text class="pp" x="2489.3" y="422.2">)</text><ellipse class="c" cx="2318.5" cy="415.7" rx="46.5" ry="26.5"/></g>
<g id="p56"><text class="n" x="2529.4" y="502.5" textLength="28.5" lengthAdjust="spacingAndGlyphs">56</text><text class="t" x="2165" y="500.9" textLength="197.4" lengthAdjust="spacingAndGlyphs">伊　藤・　金　</text><text class="pp" x="2376.5" y="499">(</text><text class="t" x="2390.6" y="500.9" textLength="84.6" lengthAdjust="spacingAndGlyphs">明　和</text><text class="pp" x="2489.3" y="499">)</text></g>
<g id="p57"><text class="n" x="2529.4" y="579.3" textLength="28.5" lengthAdjust="spacingAndGlyphs">57</text><text class="t" x="2165" y="577.7" textLength="197.4" lengthAdjust="spacingAndGlyphs">井　端・岡　田</text><text class="pp" x="2376.5" y="575.8">(</text><text class="t" x="2390.6" y="577.7" textLength="84.6" lengthAdjust="spacingAndGlyphs">向　陽</text><text class="pp" x="2489.3" y="575.8">)</text></g>
<g id="p58"><text class="n" x="2529.4" y="656.1" textLength="28.5" lengthAdjust="spacingAndGlyphs">58</text><text class="t" x="2165" y="654.5" textLength="197.4" lengthAdjust="spacingAndGlyphs">南　澤・中　筋</text><text class="pp" x="2376.5" y="652.6">(</text><text class="t" x="2390.6" y="654.5" textLength="84.6" lengthAdjust="spacingAndGlyphs">高　積</text><text class="pp" x="2489.3" y="652.6">)</text></g>
<g id="p59"><text class="n" x="2529.4" y="732.9" textLength="28.5" lengthAdjust="spacingAndGlyphs">59</text><text class="t" x="2165" y="731.3" textLength="197.4" lengthAdjust="spacingAndGlyphs">森　本・成　瀬</text><text class="pp" x="2376.5" y="729.4">(</text><text class="t" x="2390.6" y="731.3" textLength="84.6" lengthAdjust="spacingAndGlyphs">西　浜</text><text class="pp" x="2489.3" y="729.4">)</text></g>
<g id="p60"><text class="n" x="2529.4" y="809.7" textLength="28.5" lengthAdjust="spacingAndGlyphs">60</text><text class="t" x="2166.2" y="808.1" textLength="26" lengthAdjust="spacingAndGlyphs">堀</text><text class="t" x="2198.4" y="808.1" textLength="26" lengthAdjust="spacingAndGlyphs">部</text><text class="k" x="2231.5" y="808.1">未</text><text class="t" x="2249.6" y="808.1" textLength="112.8" lengthAdjust="spacingAndGlyphs">・坂　本</text><text class="pp" x="2376.5" y="806.2">(</text><text class="t" x="2390.6" y="808.1" textLength="84.6" lengthAdjust="spacingAndGlyphs">楠　見</text><text class="pp" x="2489.3" y="806.2">)</text></g>
<g id="p61"><text class="n" x="2529.4" y="886.5" textLength="28.5" lengthAdjust="spacingAndGlyphs">61</text><text class="t" x="2165" y="884.9" textLength="197.4" lengthAdjust="spacingAndGlyphs">坂　上・丹　波</text><text class="pp" x="2376.5" y="883">(</text><text class="t" x="2390.6" y="884.9" textLength="84.6" lengthAdjust="spacingAndGlyphs">紀　伊</text><text class="pp" x="2489.3" y="883">)</text><ellipse class="c" cx="2205.5" cy="876.5" rx="46.5" ry="26.5"/></g>
<g id="p62"><text class="n" x="2529.4" y="963.3" textLength="28.5" lengthAdjust="spacingAndGlyphs">62</text><text class="t" x="2165" y="961.7" textLength="197.4" lengthAdjust="spacingAndGlyphs">森　村・栗　原</text><text class="pp" x="2376.5" y="959.8">(</text><text class="t" x="2390.6" y="961.7" textLength="84.6" lengthAdjust="spacingAndGlyphs">和大附</text><text class="pp" x="2489.3" y="959.8">)</text><ellipse class="c" cx="2205.5" cy="953.3" rx="46.5" ry="26.5"/></g>
<g id="p63"><text class="n" x="2529.4" y="1040.1" textLength="28.5" lengthAdjust="spacingAndGlyphs">63</text><text class="t" x="2166.45" y="1038.5" textLength="49.4" lengthAdjust="spacingAndGlyphs">山東</text><text class="k" x="2216.15" y="1038.5" textLength="32.2" lengthAdjust="spacingAndGlyphs">莉緒</text><text class="t" x="2249.6" y="1038.5" textLength="112.8" lengthAdjust="spacingAndGlyphs">・籾　井</text><text class="pp" x="2376.5" y="1036.6">(</text><text class="t" x="2390.6" y="1038.5" textLength="84.6" lengthAdjust="spacingAndGlyphs">伏　虎</text><text class="pp" x="2489.3" y="1036.6">)</text><ellipse class="c" cx="2205.5" cy="1030.1" rx="46.5" ry="26.5"/></g>
<g id="p64"><text class="n" x="2529.4" y="1116.9" textLength="28.5" lengthAdjust="spacingAndGlyphs">64</text><text class="t" x="2165" y="1115.3" textLength="197.4" lengthAdjust="spacingAndGlyphs">志　葉・北　川</text><text class="pp" x="2376.5" y="1113.4">(</text><text class="t" x="2390.6" y="1115.3" textLength="84.6" lengthAdjust="spacingAndGlyphs">紀之川</text><text class="pp" x="2489.3" y="1113.4">)</text><ellipse class="c" cx="2318.5" cy="1106.9" rx="46.5" ry="26.5"/></g>
<g id="p65"><text class="n" x="2529.4" y="1193.7" textLength="28.5" lengthAdjust="spacingAndGlyphs">65</text><text class="k2" x="2163" y="1192.1" textLength="86" lengthAdjust="spacingAndGlyphs">アチャリヤ</text><text class="t" x="2249.6" y="1192.1" textLength="112.8" lengthAdjust="spacingAndGlyphs">・魚　住</text><text class="pp" x="2376.5" y="1190.2">(</text><text class="t" x="2390.6" y="1192.1" textLength="84.6" lengthAdjust="spacingAndGlyphs">明　和</text><text class="pp" x="2489.3" y="1190.2">)</text></g>
<g id="p66"><text class="n" x="2529.4" y="1270.5" textLength="28.5" lengthAdjust="spacingAndGlyphs">66</text><text class="t" x="2165" y="1268.9" textLength="197.4" lengthAdjust="spacingAndGlyphs">坂　口・田　鍋</text><text class="pp" x="2376.5" y="1267">(</text><text class="t" x="2390.6" y="1268.9" textLength="84.6" lengthAdjust="spacingAndGlyphs">　東　</text><text class="pp" x="2489.3" y="1267">)</text></g>
<g id="scores">
<text class="s" x="468.8" y="99">0</text><text class="s" x="501.8" y="172.3">0</text><text class="s" x="501.8" y="254">2</text><text class="s" x="535.7" y="325.7">0</text><text class="s" x="501.8" y="407.3">2</text><text class="s" x="535.7" y="445.7">0</text><text class="s" x="569" y="557.3">2</text><text class="s" x="501.8" y="560.7">0</text><text class="s" x="501.8" y="717.3">1</text><text class="s" x="535.7" y="752.3">0</text><text class="s" x="569" y="829">1</text><text class="s" x="503" y="981.3">2</text><text class="s" x="603" y="1017.3">0</text><text class="s" x="501.8" y="1132.3">0</text><text class="s" x="501.8" y="1175.7">0</text><text class="s" x="535.7" y="1247.3">1</text><text class="s" x="643" y="941">1</text>
<text class="s" x="666.7" y="639">2</text><text class="s" x="742.3" y="134">1</text><text class="s" x="742.3" y="175.7">1</text><text class="s" x="709.3" y="249.7">0</text><text class="s" x="742.3" y="330.7">1</text><text class="s" x="709.3" y="369">2</text><text class="s" x="675" y="479">0</text><text class="s" x="742.3" y="594">0</text><text class="s" x="709.3" y="675.7">0</text><text class="s" x="742.3" y="749">2</text><text class="s" x="742.3" y="791.7">0</text><text class="s" x="676.2" y="1094">0</text><text class="s" x="742.3" y="1056.3">2</text><text class="s" x="709.3" y="1170.7">1</text><text class="s" x="742.3" y="1209.7">2</text>
<text class="s" x="1807.5" y="24">0</text><text class="s" x="1874.5" y="139">0</text><text class="s" x="1807.5" y="177.3">1</text><text class="s" x="1841.4" y="249">0</text><text class="s" x="1907.5" y="292.3">0</text><text class="s" x="1807.5" y="331.7">1</text><text class="s" x="1807.5" y="484">2</text><text class="s" x="1841.4" y="557.3">0</text><text class="s" x="1882.7" y="634">1</text><text class="s" x="1807.5" y="749">0</text><text class="s" x="1807.5" y="791.7">0</text><text class="s" x="1841.4" y="864">2</text><text class="s" x="1807.5" y="945.7">1</text><text class="s" x="1841.4" y="984">0</text><text class="s" x="1807.5" y="1099">0</text><text class="s" x="1874.5" y="1094">0</text>
<text class="s" x="2047.6" y="134">0</text><text class="s" x="2013.8" y="249.7">0</text><text class="s" x="2047.6" y="288.3">1</text><text class="s" x="2047.6" y="330.7">0</text><text class="s" x="1980.7" y="480.7">0</text><text class="s" x="2047.6" y="484">0</text><text class="s" x="2013.8" y="557.3">2</text><text class="s" x="2013.8" y="675.7">1</text><text class="s" x="1980.7" y="752.3">0</text><text class="s" x="2047.6" y="749">0</text><text class="s" x="2047.6" y="901.7">0</text><text class="s" x="1947.7" y="940.7">0</text><text class="s" x="2047.6" y="1055.7">0</text><text class="s" x="2081.5" y="1209.7">0</text><text class="s" x="2013.8" y="1247.3">1</text><text class="s" x="2047.6" y="1289">0</text>
</g>
</svg>
